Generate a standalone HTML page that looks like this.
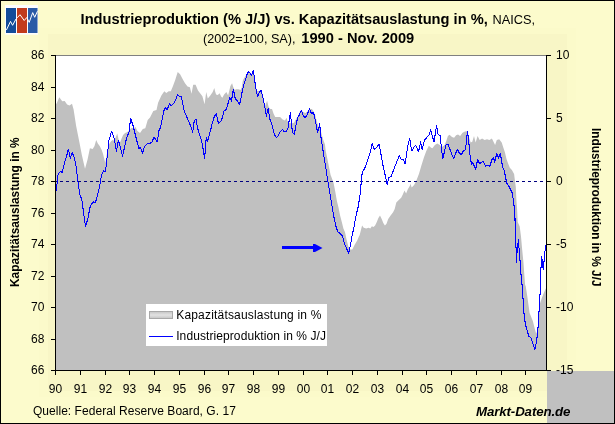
<!DOCTYPE html>
<html><head><meta charset="utf-8"><title>Industrieproduktion vs. Kapazitätsauslastung</title>
<style>
html,body{margin:0;padding:0;background:#fcfbcc;}
svg{display:block;will-change:transform;font-family:"Liberation Sans",Arial,sans-serif;}
.ax line{stroke:#000;stroke-width:1;shape-rendering:crispEdges}
.lab text{font-size:12px;fill:#000}
</style></head><body>
<svg width="615" height="424" viewBox="0 0 615 424">
<rect x="0" y="0" width="615" height="424" fill="#fcfbcc"/>
<rect x="39" y="28" width="537" height="369" fill="#fbfaca"/>
<rect x="48" y="34" width="519" height="357" fill="#f8f6c6"/>
<rect x="547" y="371" width="68" height="53" fill="#c0c0c0"/>
<rect x="0.5" y="0.5" width="614" height="423" fill="none" stroke="#000" stroke-width="1" shape-rendering="crispEdges"/>
<!-- logo -->
<rect x="5" y="5" width="33" height="29.7" fill="#fdfdfd"/>
<rect x="6" y="8" width="10" height="25" fill="#134c9a"/>
<rect x="17" y="8" width="10" height="25" fill="#c23b1c"/>
<rect x="28" y="8" width="9.5" height="25" fill="#2a5ba6"/>
<polyline points="6.4,30.0 10.5,21.4 12.6,25.3 16.0,19.0 17.3,17.7 20.0,14.7 24.2,20.5 26.8,17.5 29.2,22.4 32.7,12.6 34.7,17.3 37.5,11.2" fill="none" stroke="#fff" stroke-width="1"/>
<!-- title -->
<text id="t1" x="80.6" y="23.6" font-size="14.67px" font-weight="bold">Industrieproduktion (% J/J) vs. Kapazitätsauslastung in %,<tspan id="t1b" dx="1.3" font-size="12.75px" font-weight="normal"> NAICS,</tspan></text>
<text id="t2" x="203" y="43.4" font-size="12.67px">(2002=100, SA), <tspan id="t2b" x="301.3" font-size="14.67px" font-weight="bold">1990 - Nov. 2009</tspan></text>
<!-- plot -->
<rect x="56" y="56" width="490" height="314" fill="#fff"/>
<polygon points="56.0,370.0 56.0,103.7 56.5,103.7 59.3,97.2 62.2,101.3 64.7,101.0 67.1,104.5 69.5,105.4 72.0,103.7 73.6,109.4 76.1,125.7 79.3,141.8 81.8,154.8 85.0,168.7 87.5,159.7 89.9,148.3 92.7,149.1 94.5,146.0 96.2,140.1 97.8,143.4 99.7,146.0 101.7,149.9 103.0,153.8 104.3,159.0 105.3,162.9 106.9,153.8 108.8,144.7 110.8,141.4 112.7,140.1 114.0,140.8 115.3,138.2 117.3,133.6 118.6,139.5 119.9,142.7 121.2,139.5 123.1,134.9 125.1,133.0 127.0,132.3 129.0,130.4 131.6,127.8 133.5,128.4 135.5,127.1 137.4,131.0 140.0,133.0 142.8,129.0 145.3,128.2 147.7,120.0 150.0,117.6 153.3,110.9 156.5,110.0 158.1,102.7 161.4,95.4 164.3,91.3 166.3,92.9 168.7,91.3 170.8,91.3 172.8,86.4 175.2,79.9 177.7,72.1 180.1,74.2 182.6,79.1 185.0,83.2 187.5,86.4 189.9,87.2 191.5,93.8 193.2,84.8 195.6,84.8 198.0,90.5 200.5,93.8 202.4,96.2 204.6,104.3 206.2,92.1 207.8,98.6 210.3,95.4 212.7,92.1 214.3,88.1 215.0,91.0 216.1,94.4 217.8,95.0 219.6,93.3 221.3,96.7 222.4,97.8 224.1,94.4 226.4,92.1 228.1,95.6 229.2,91.0 230.4,85.9 232.1,83.3 233.2,87.0 234.6,89.9 236.1,89.3 238.3,89.3 240.6,89.9 241.7,87.6 242.9,80.2 244.6,77.3 246.3,75.1 248.0,72.2 249.1,71.4 251.6,73.9 253.5,71.7 254.6,79.6 256.5,90.9 259.0,90.9 261.4,90.1 263.0,96.6 265.0,106.4 267.1,100.7 268.7,107.2 270.4,108.9 272.0,108.9 273.6,113.7 275.2,117.0 277.7,117.0 280.1,117.0 282.6,119.4 285.0,120.6 286.6,117.8 287.8,121.9 289.1,122.7 291.5,123.5 294.0,122.7 296.4,118.6 298.0,116.2 299.7,112.1 301.3,109.7 302.9,112.1 305.4,112.9 307.0,112.1 309.4,108.9 311.9,108.9 313.5,111.3 315.1,114.9 316.8,121.4 318.4,126.3 320.0,127.9 321.7,134.4 323.3,140.1 324.9,144.2 325.7,150.7 327.4,158.9 329.0,167.0 330.6,175.1 331.2,176.5 333.6,183.0 335.2,191.2 336.9,200.9 338.5,207.5 340.1,215.6 341.8,222.1 343.4,228.6 345.0,232.3 346.6,239.7 348.3,246.2 349.9,249.4 352.3,249.4 354.8,244.5 357.2,240.5 358.9,236.4 359.7,235.1 361.3,228.6 362.1,225.4 363.7,227.8 366.2,228.6 368.6,227.8 370.3,228.6 371.9,226.2 373.5,227.0 375.1,225.4 376.8,222.1 378.4,218.0 380.0,215.6 381.7,218.9 383.3,222.9 384.9,225.4 386.5,223.7 388.2,218.9 390.6,215.6 393.1,212.3 394.7,209.1 396.3,202.6 398.8,200.1 401.2,197.7 402.8,194.4 404.5,190.4 406.1,193.6 407.7,189.5 410.0,185.5 410.4,183.5 411.7,187.6 414.1,185.1 416.5,180.3 419.0,173.7 421.4,165.6 423.9,157.5 426.3,150.9 428.8,145.7 431.2,147.7 432.4,148.3 434.9,145.0 437.3,143.4 439.8,145.0 441.4,147.5 444.7,145.0 446.3,140.9 447.9,136.1 449.5,134.8 452.0,136.9 454.1,137.7 456.1,135.2 458.0,134.4 460.1,136.1 462.6,132.8 465.0,131.5 467.1,131.2 469.1,137.7 470.7,142.6 472.3,141.8 474.0,136.1 475.6,142.6 477.6,136.1 479.7,140.1 482.1,138.5 484.6,140.1 487.0,139.3 489.4,140.1 491.9,138.5 493.5,141.8 495.1,145.0 496.8,140.1 499.2,139.3 501.7,142.6 503.3,147.5 504.9,152.3 506.5,158.9 508.2,163.7 509.8,167.8 511.9,170.0 514.1,173.9 514.9,180.4 515.8,186.9 516.4,199.9 517.1,209.0 517.7,222.0 519.7,226.6 521.0,236.5 522.2,249.7 523.5,262.9 524.3,274.5 525.2,286.0 525.5,285.0 527.1,294.9 529.6,313.1 532.9,321.3 534.6,327.9 536.2,333.7 537.9,329.6 538.7,318.0 540.0,303.2 542.0,297.4 543.7,293.3 545.8,288.6 546.0,288.6 546.0,370.0" fill="#c0c0c0"/>
<line x1="56" x2="546" y1="55.5" y2="55.5" stroke="#808080" stroke-width="1" shape-rendering="crispEdges"/>
<line x1="55" x2="546" y1="181.5" y2="181.5" stroke="#000080" stroke-width="1" stroke-dasharray="3 3" stroke-dashoffset="1" shape-rendering="crispEdges"/>
<polyline points="56.2,191.3 58.1,174.4 60.6,171.1 62.2,172.7 64.7,162.2 66.3,157.3 68.4,149.1 70.4,158.1 72.3,152.4 74.4,158.1 76.1,166.2 77.7,179.3 78.5,186.4 80.1,195.4 81.8,199.4 83.4,211.6 85.5,226.3 87.8,219.0 89.9,207.6 91.5,204.3 93.6,201.9 95.3,203.0 97.2,196.2 99.7,186.4 100.5,180.1 102.1,173.6 103.7,170.8 105.0,171.9 106.2,166.2 107.5,153.2 109.0,140.2 111.6,131.2 114.3,138.5 116.4,151.2 118.4,140.2 120.4,147.5 122.5,156.1 124.1,149.1 126.5,138.5 129.0,132.0 130.6,118.4 133.1,125.7 135.5,135.5 138.8,148.3 140.4,147.5 142.5,153.2 144.5,146.7 146.9,143.9 150.0,143.4 152.0,142.0 154.1,137.1 157.3,142.0 159.0,130.6 160.6,127.1 162.2,119.0 163.8,110.9 165.5,107.6 167.1,110.0 169.5,103.5 171.2,106.0 174.4,102.7 176.1,98.6 177.7,94.6 179.3,96.2 181.3,96.5 182.6,102.7 184.2,110.9 186.6,116.6 189.1,122.3 190.7,126.3 192.7,132.2 194.3,120.6 196.1,119.3 197.2,126.5 198.9,133.0 201.3,139.5 202.9,147.7 204.6,158.8 206.2,137.9 207.8,141.2 209.4,134.7 211.1,128.1 211.9,124.7 214.3,116.6 216.3,113.3 218.4,123.6 220.8,121.4 222.5,117.4 224.1,110.9 226.5,109.2 228.9,100.1 229.8,97.3 231.5,101.3 232.6,93.3 233.6,89.3 234.6,96.7 236.1,99.5 237.8,101.3 239.5,104.7 240.6,100.1 242.3,91.0 244.0,84.2 245.7,79.1 247.4,73.4 248.9,71.7 250.3,73.4 251.6,75.1 252.6,72.2 253.5,70.3 254.3,77.3 255.4,85.3 256.5,92.1 257.7,96.1 259.4,92.1 261.1,90.4 262.2,94.4 263.4,100.1 265.5,110.5 266.3,116.2 268.2,108.5 269.9,119.4 270.4,119.8 272.8,127.9 274.4,134.4 276.4,137.7 278.5,135.2 280.1,132.0 282.6,129.2 284.2,132.0 286.6,131.2 288.3,127.1 289.1,120.6 290.4,112.9 291.7,126.3 292.7,132.8 294.3,134.4 295.9,125.5 297.6,118.1 299.7,114.1 301.3,110.2 303.7,117.0 306.2,117.0 307.8,112.9 309.4,108.9 311.6,113.7 313.2,112.1 314.3,115.4 316.0,123.8 317.6,132.8 319.7,123.8 320.8,136.1 322.5,147.5 324.1,157.2 325.7,167.0 327.1,176.5 328.7,186.3 330.4,196.1 332.0,205.8 333.6,215.6 335.7,225.4 337.7,231.6 340.1,233.5 342.6,236.0 344.2,242.9 346.6,248.6 348.6,253.5 349.9,247.8 351.5,239.7 352.7,231.5 353.2,231.9 354.8,222.1 356.4,214.0 358.0,207.5 359.7,197.7 360.8,187.9 361.5,177.0 362.5,172.1 365.2,167.2 367.7,159.9 370.1,152.6 372.2,143.6 374.2,149.3 376.6,147.7 379.1,144.1 380.7,152.6 382.7,164.0 384.8,173.7 387.2,184.3 388.9,177.8 391.3,176.2 393.7,169.7 396.2,163.2 399.4,155.5 401.6,159.9 403.2,159.1 405.1,164.0 406.8,152.6 408.1,144.4 409.7,138.7 411.7,150.9 414.1,146.9 415.7,145.2 418.5,151.8 420.6,142.0 422.2,149.3 424.4,140.4 427.1,137.1 428.8,135.5 430.7,129.8 432.3,136.3 434.1,141.8 435.4,132.8 436.5,125.5 438.1,134.4 440.1,135.7 441.4,147.5 442.7,158.9 444.3,152.3 446.0,145.0 447.9,144.2 449.9,149.1 452.0,154.8 453.6,158.5 455.7,153.2 457.7,149.1 459.6,154.0 461.8,154.0 463.4,150.7 465.5,149.9 466.6,139.3 467.5,131.2 468.8,142.6 469.9,154.0 471.5,164.6 472.7,162.9 474.0,165.4 475.6,169.4 477.6,159.7 479.7,163.7 481.8,162.1 483.4,161.3 485.4,166.2 487.8,165.4 489.9,166.2 491.9,159.7 493.5,158.0 494.8,162.1 496.8,153.2 498.4,158.0 500.4,153.6 501.7,162.1 503.0,167.8 504.1,170.0 505.4,176.5 506.7,183.0 509.3,186.9 511.9,192.1 513.2,198.6 514.1,206.4 514.9,215.5 515.3,229.9 515.9,243.1 516.4,262.1 517.2,249.7 518.4,239.8 519.4,253.0 520.2,262.9 521.0,274.5 521.9,284.4 522.2,285.0 523.0,298.2 524.3,318.0 526.3,327.9 528.8,336.2 530.9,337.8 532.9,343.6 534.9,349.4 536.6,341.1 537.9,329.6 538.7,316.4 539.5,304.8 540.0,294.9 540.9,269.5 541.7,256.3 542.5,264.6 543.2,269.5 544.2,259.6 545.3,248.1 546.1,244.8" fill="none" stroke="#0000ff" stroke-width="1.05" stroke-linejoin="round" shape-rendering="crispEdges"/>
<!-- arrow -->
<rect x="282" y="246" width="32" height="3" fill="#0000ff"/>
<polygon points="313,244 315,244 322.5,248 315,252 313,252" fill="#0000ff"/>
<g class="ax">
<line x1="55.5" x2="55.5" y1="55" y2="371"/>
<line x1="546.5" x2="546.5" y1="55" y2="371"/>
<line x1="55" x2="547" y1="370.5" y2="370.5"/>
<line x1="51" x2="55" y1="55.5" y2="55.5"/><line x1="51" x2="55" y1="87.5" y2="87.5"/><line x1="51" x2="55" y1="118.5" y2="118.5"/><line x1="51" x2="55" y1="150.5" y2="150.5"/><line x1="51" x2="55" y1="181.5" y2="181.5"/><line x1="51" x2="55" y1="213.5" y2="213.5"/><line x1="51" x2="55" y1="244.5" y2="244.5"/><line x1="51" x2="55" y1="276.5" y2="276.5"/><line x1="51" x2="55" y1="307.5" y2="307.5"/><line x1="51" x2="55" y1="339.5" y2="339.5"/><line x1="51" x2="55" y1="370.5" y2="370.5"/><line x1="547" x2="551" y1="55.5" y2="55.5"/><line x1="547" x2="551" y1="118.5" y2="118.5"/><line x1="547" x2="551" y1="181.5" y2="181.5"/><line x1="547" x2="551" y1="244.5" y2="244.5"/><line x1="547" x2="551" y1="307.5" y2="307.5"/><line x1="547" x2="551" y1="370.5" y2="370.5"/><line x1="55.5" x2="55.5" y1="371" y2="375"/><line x1="80.5" x2="80.5" y1="371" y2="375"/><line x1="105.5" x2="105.5" y1="371" y2="375"/><line x1="129.5" x2="129.5" y1="371" y2="375"/><line x1="154.5" x2="154.5" y1="371" y2="375"/><line x1="179.5" x2="179.5" y1="371" y2="375"/><line x1="204.5" x2="204.5" y1="371" y2="375"/><line x1="228.5" x2="228.5" y1="371" y2="375"/><line x1="253.5" x2="253.5" y1="371" y2="375"/><line x1="278.5" x2="278.5" y1="371" y2="375"/><line x1="303.5" x2="303.5" y1="371" y2="375"/><line x1="327.5" x2="327.5" y1="371" y2="375"/><line x1="352.5" x2="352.5" y1="371" y2="375"/><line x1="377.5" x2="377.5" y1="371" y2="375"/><line x1="402.5" x2="402.5" y1="371" y2="375"/><line x1="426.5" x2="426.5" y1="371" y2="375"/><line x1="451.5" x2="451.5" y1="371" y2="375"/><line x1="476.5" x2="476.5" y1="371" y2="375"/><line x1="501.5" x2="501.5" y1="371" y2="375"/><line x1="525.5" x2="525.5" y1="371" y2="375"/>
</g>
<g class="lab"><text x="44.4" y="58.8" text-anchor="end">86</text><text x="44.4" y="90.8" text-anchor="end">84</text><text x="44.4" y="121.8" text-anchor="end">82</text><text x="44.4" y="153.8" text-anchor="end">80</text><text x="44.4" y="184.8" text-anchor="end">78</text><text x="44.4" y="216.8" text-anchor="end">76</text><text x="44.4" y="247.8" text-anchor="end">74</text><text x="44.4" y="279.8" text-anchor="end">72</text><text x="44.4" y="310.8" text-anchor="end">70</text><text x="44.4" y="342.8" text-anchor="end">68</text><text x="44.4" y="373.8" text-anchor="end">66</text><text x="556" y="58.8">10</text><text x="556" y="121.8">5</text><text x="556" y="184.8">0</text><text x="556" y="247.8">-5</text><text x="556" y="310.8">-10</text><text x="556" y="373.8">-15</text><text x="55.5" y="393" text-anchor="middle">90</text><text x="80.5" y="393" text-anchor="middle">91</text><text x="105.5" y="393" text-anchor="middle">92</text><text x="129.5" y="393" text-anchor="middle">93</text><text x="154.5" y="393" text-anchor="middle">94</text><text x="179.5" y="393" text-anchor="middle">95</text><text x="204.5" y="393" text-anchor="middle">96</text><text x="228.5" y="393" text-anchor="middle">97</text><text x="253.5" y="393" text-anchor="middle">98</text><text x="278.5" y="393" text-anchor="middle">99</text><text x="303.5" y="393" text-anchor="middle">00</text><text x="327.5" y="393" text-anchor="middle">01</text><text x="352.5" y="393" text-anchor="middle">02</text><text x="377.5" y="393" text-anchor="middle">03</text><text x="402.5" y="393" text-anchor="middle">04</text><text x="426.5" y="393" text-anchor="middle">05</text><text x="451.5" y="393" text-anchor="middle">06</text><text x="476.5" y="393" text-anchor="middle">07</text><text x="501.5" y="393" text-anchor="middle">08</text><text x="525.5" y="393" text-anchor="middle">09</text></g>
<!-- axis titles -->
<text transform="translate(19.4,287) rotate(-90)" font-size="12px" font-weight="bold" textLength="149.5" lengthAdjust="spacingAndGlyphs">Kapazitätsauslastung in %</text>
<text transform="translate(591.5,128) rotate(90)" font-size="12px" font-weight="bold" textLength="158.5" lengthAdjust="spacingAndGlyphs">Industrieproduktion in % J/J</text>
<!-- legend -->
<rect x="146" y="304" width="181" height="42" fill="#fff"/>
<defs><linearGradient id="sw" x1="0" y1="0" x2="0" y2="1"><stop offset="0" stop-color="#c4c4c4"/><stop offset="0.5" stop-color="#e2e2e2"/><stop offset="1" stop-color="#c4c4c4"/></linearGradient></defs>
<rect x="149.5" y="311.5" width="23" height="7" fill="url(#sw)" stroke="#a8a8a8" stroke-width="1"/>
<line x1="149" x2="173" y1="336.5" y2="336.5" stroke="#0000ff" stroke-width="1" shape-rendering="crispEdges"/>
<text x="176.2" y="318.8" font-size="12px" textLength="145.2" lengthAdjust="spacing">Kapazitätsauslastung in %</text>
<text id="lg2" x="176.2" y="340" font-size="12px" textLength="149.8" lengthAdjust="spacing">Industrieproduktion in % J/J</text>
<!-- footer -->
<text x="32.9" y="414.7" font-size="12px" textLength="203" lengthAdjust="spacing">Quelle: Federal Reserve Board, G. 17</text>
<text x="476" y="415.9" font-size="13.3px" font-weight="bold" font-style="italic" textLength="94.4" lengthAdjust="spacing">Markt-Daten.de</text>
</svg>
</body></html>
